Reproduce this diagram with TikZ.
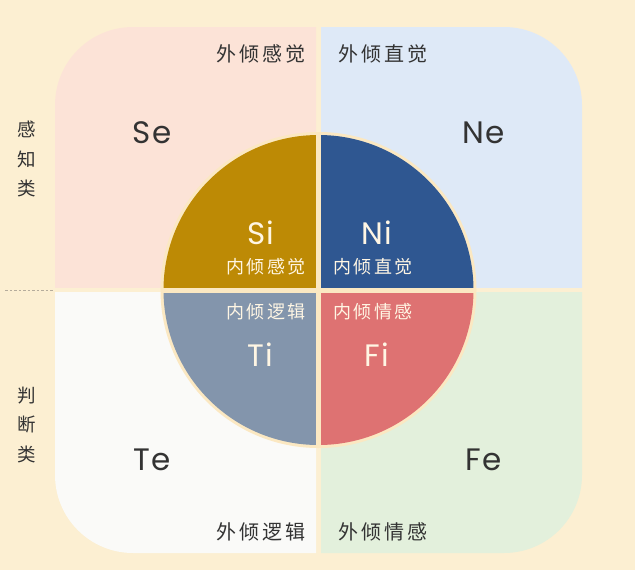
\documentclass[tikz,border=0pt]{standalone}
\usepackage{fontspec}
\setmainfont{Poppins}[LetterSpace=4]
\newfontfamily\cjk{Noto Sans CJK SC}[LetterSpace=14]
\newfontfamily\cjkv{Noto Sans CJK SC}
\definecolor{bgcream}{HTML}{FCEFD2}
\definecolor{ringcream}{HTML}{FBE8C2}
\definecolor{qpink}{HTML}{FCE3D7}
\definecolor{qblue}{HTML}{DEE9F7}
\definecolor{qwhite}{HTML}{FAFAF8}
\definecolor{qgreen}{HTML}{E3F0DC}
\definecolor{cgold}{HTML}{BD8A05}
\definecolor{cblue}{HTML}{2F5791}
\definecolor{cgrey}{HTML}{8395AC}
\definecolor{cred}{HTML}{DE7272}
\definecolor{txtdark}{HTML}{333333}
\definecolor{txtlight}{HTML}{FFF6E4}
\definecolor{dashgrey}{HTML}{B5AC9C}
\begin{document}
\begin{tikzpicture}[x=1pt,y=-1pt,
  big/.style={font=\fontsize{31}{34}\selectfont, inner sep=0pt},
  bigdark/.style={big, text=txtdark},
  biglight/.style={big, text=txtlight},
  outlabel/.style={font=\cjk\fontsize{20}{23}\selectfont, text=txtdark, inner sep=0pt},
  inlabel/.style={font=\cjk\fontsize{18}{21}\selectfont, text=txtlight, inner sep=0pt},
  sidelabel/.style={font=\cjkv\fontsize{18.5}{29.5}\selectfont, text=txtdark, align=center, inner sep=0pt}]
\useasboundingbox (0,0) rectangle (635,570);
\fill[bgcream] (0,0) rectangle (635,570);
% outer quadrants
\begin{scope}
  \clip (55,27) rectangle (316,287.5);
  \fill[qpink, rounded corners=78pt] (55,27) rectangle (582,553);
\end{scope}
\begin{scope}
  \clip (321,27) rectangle (582,287.5);
  \fill[qblue, rounded corners=78pt] (55,27) rectangle (582,553);
\end{scope}
\begin{scope}
  \clip (55,292.5) rectangle (316,553);
  \fill[qwhite, rounded corners=78pt] (55,27) rectangle (582,553);
\end{scope}
\begin{scope}
  \clip (321,292.5) rectangle (582,553);
  \fill[qgreen, rounded corners=78pt] (55,27) rectangle (582,553);
\end{scope}
% circle ring
\coordinate (c) at (318.5,290);
\fill[ringcream] (c) circle (158pt);
\begin{scope}
  \clip (c) circle (155pt);
  \fill[cgold] (150,120) rectangle (316,287.5);
  \fill[cblue] (321,120) rectangle (490,287.5);
  \fill[cgrey] (150,292.5) rectangle (316,460);
  \fill[cred]  (321,292.5) rectangle (490,460);
\end{scope}
% outer labels
\node[outlabel] (se-t) at (261,54) {外倾感觉};
\node[outlabel] (ne-t) at (383,54) {外倾直觉};
\node[outlabel] (te-t) at (261,532) {外倾逻辑};
\node[outlabel] (fe-t) at (383,532) {外倾情感};
\node[bigdark] (se) at (152,133) {Se};
\node[bigdark] (ne) at (484,133) {Ne};
\node[bigdark] (te) at (152,460) {Te};
\node[bigdark] (fe) at (484,460) {Fe};
% inner
\node[biglight] (si) at (261,233) {Si};
\node[biglight] (ni) at (377,233) {Ni};
\node[biglight] (ti) at (260,355) {Ti};
\node[biglight] (fi) at (377,355) {Fi};
\node[inlabel] (si-t) at (266,267) {内倾感觉};
\node[inlabel] (ni-t) at (373,267) {内倾直觉};
\node[inlabel] (ti-t) at (266,312) {内倾逻辑};
\node[inlabel] (fi-t) at (373,312) {内倾情感};
% side labels
\node[sidelabel] (perc) at (27,159) {感\\知\\类};
\node[sidelabel] (judg) at (27,425) {判\\断\\类};
\coordinate (d1) at (5,290);
\coordinate (d2) at (53,290);
\draw[dashgrey, dash pattern=on 2.5pt off 2pt, line width=0.8pt] (d1) -- (d2);
\end{tikzpicture}
\end{document}
